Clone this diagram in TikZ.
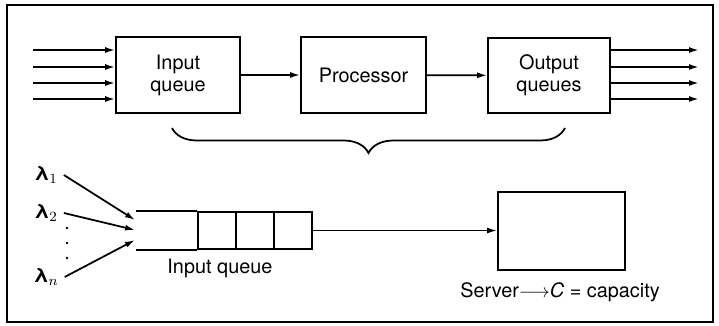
\documentclass[tikz,border=0pt]{standalone}
\usepackage{fontspec}
\setmainfont{TeX Gyre Heros}
\usetikzlibrary{arrows.meta,decorations.pathreplacing}

\begin{document}
\begin{tikzpicture}[x=0.02cm, y=-0.02cm,
    every node/.style={font=\fontsize{11.3}{12.5}\selectfont},
    >={Latex[length=2mm,width=1.2mm]},
    block/.style={draw, line width=1pt, align=center, inner sep=0pt},
    cell/.style={draw, line width=1pt, minimum width=0.76cm, minimum height=0.74cm, inner sep=0pt}]

    \useasboundingbox (0,0) rectangle (719,325);

    % frame
    \draw[line width=1.2pt] (7,5) rectangle (713,322);

    % Input queue, processor, output queues
    \node[block, minimum width=2.48cm, minimum height=1.52cm] (inq) at (178,75) {Input\\queue};
    \node[block, minimum width=2.5cm, minimum height=1.52cm] (proc) at (363.5,75) {Processor};
    \node[block, minimum width=2.44cm, minimum height=1.5cm] (outq) at (549,75.5) {Output\\queues};

    \draw[->, line width=1pt] (inq) -- (proc);
    \draw[->, line width=1pt] (proc) -- (outq);

    % arrivals and departures
    \foreach \y [count=\i] in {50,67,83,99} {
        \coordinate (src\i) at (33,\y);
        \coordinate (dst\i) at (699,\y);
        \draw[->, line width=1pt] (src\i) -- (src\i -| inq.west);
        \draw[->, line width=1pt] (dst\i -| outq.east) -- (dst\i);
    }

    % brace
    \draw[decorate, decoration={brace, mirror, amplitude=0.5cm}, line width=1pt] (172,128) -- (565,128);

    % arrival rates
    \node (l1) at (46,175) {\textbf{λ}$_1$};
    \node (l2) at (46,213) {\textbf{λ}$_2$};
    \node (ln) at (46,277) {\textbf{λ}$_n$};
    \foreach \y in {228,243,258}
        \fill (67,\y) circle (1.3);

    \coordinate (q1) at (135,220);
    \coordinate (q2) at (135,230);
    \coordinate (q3) at (135,240);
    \draw[->, line width=1pt] (l1.east) -- (q1);
    \draw[->, line width=1pt] (l2.east) -- (q2);
    \draw[->, line width=1pt] (ln.east) -- (q3);

    % queue
    \node[cell] (c1) at (217,230.5) {};
    \node[cell] (c2) at (255,230.5) {};
    \node[cell] (c3) at (293,230.5) {};
    \draw[line width=1pt] (c1.north west) -- ++(-61,0);
    \draw[line width=1pt] (c1.south west) -- ++(-61,0);
    \node (qlabel) at (220,268) {Input queue};

    % server
    \node[block, minimum width=2.54cm, minimum height=1.56cm] (srv) at (561.5,231) {};
    \draw[->, line width=1pt] (c3.east) -- (c3.east -| srv.west);
    \node (cap) at (560,292) {Server$\longrightarrow$\textit{C} = capacity};

\end{tikzpicture}
\end{document}
